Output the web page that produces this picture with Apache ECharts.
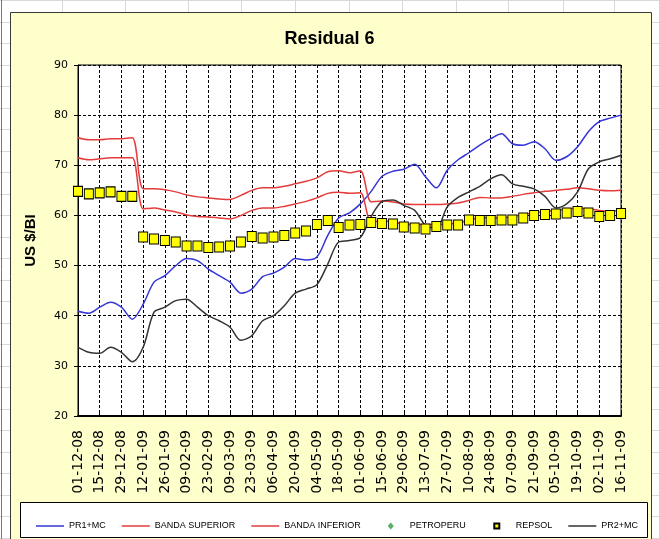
<!DOCTYPE html>
<html><head><meta charset="utf-8">
<script src="https://cdn.jsdelivr.net/npm/echarts@6/dist/echarts.min.js"></script>
<style>html,body{margin:0;padding:0;background:#fff;}#c{width:659px;height:539px;}</style>
</head><body><div id="c"></div>
<script>
const categories = ['01-12-08','08-12-08','15-12-08','22-12-08','29-12-08','05-01-09','12-01-09','19-01-09','26-01-09','02-02-09','09-02-09','16-02-09','23-02-09','02-03-09','09-03-09','16-03-09','23-03-09','30-03-09','06-04-09','13-04-09','20-04-09','27-04-09','04-05-09','11-05-09','18-05-09','25-05-09','01-06-09','08-06-09','15-06-09','22-06-09','29-06-09','06-07-09','13-07-09','20-07-09','27-07-09','03-08-09','10-08-09','17-08-09','24-08-09','31-08-09','07-09-09','14-09-09','21-09-09','28-09-09','05-10-09','12-10-09','19-10-09','26-10-09','02-11-09','09-11-09','16-11-09'];

const pr1mc = [40.9,40.5,41.7,42.7,41.7,39.3,42.3,46.7,48.0,50.0,51.4,51.0,49.3,48.0,46.7,44.5,45.3,47.8,48.5,49.7,51.4,51.1,51.7,56.0,59.5,60.5,62.3,64.8,67.8,68.8,69.2,70.2,67.7,65.5,69.0,71.1,72.5,74.0,75.3,76.3,74.3,74.0,74.7,73.3,71.0,71.7,73.7,76.7,78.7,79.4,80.0];

const bandaSuperior = [75.5,75.1,75.1,75.3,75.3,75.5,65.3,65.3,65.1,64.7,64.1,63.7,63.5,63.3,63.2,64.0,65.0,65.5,65.5,65.8,66.3,66.8,67.5,68.7,68.9,68.5,68.9,62.7,62.9,62.7,62.3,62.2,62.2,62.2,62.3,62.5,63.0,63.6,63.5,63.5,63.8,64.2,64.5,64.8,65.0,65.2,65.5,65.3,65.0,64.9,65.0];

const bandaInferior = [71.5,71.1,71.3,71.5,71.5,71.5,61.3,61.5,61.1,60.7,60.1,59.8,59.7,59.5,59.3,60.0,61.0,61.5,61.5,61.8,62.3,62.8,63.5,64.4,64.6,64.4,64.5,58.7,58.9,58.7,58.3,58.2,58.2,58.2,58.3,58.5,59.0,59.6,59.5,59.5,59.8,60.2,60.5,60.8,61.0,61.2,61.5,61.3,61.0,60.9,61.0];

const petroperu = [];

const repsol = [64.8,64.3,64.5,64.7,63.8,63.8,55.7,55.3,55.0,54.7,53.9,53.9,53.6,53.7,53.9,54.7,55.8,55.5,55.7,56.0,56.5,56.9,58.2,59.0,57.6,58.1,58.2,58.6,58.4,58.3,57.7,57.5,57.3,57.8,58.1,58.1,59.1,59.0,59.0,59.1,59.1,59.5,60.0,60.2,60.3,60.5,60.8,60.5,59.8,60.0,60.4];

const pr2mc = [33.7,32.7,32.5,33.7,32.7,30.8,33.7,40.7,41.7,43.0,43.3,41.7,40.0,39.0,37.7,35.1,36.0,39.0,40.0,42.0,44.5,45.3,46.2,50.3,54.7,55.0,55.6,59.8,62.8,63.1,62.0,61.0,58.0,57.5,61.7,63.6,64.7,65.8,67.3,68.1,66.3,65.8,65.3,63.8,61.5,62.3,64.7,69.3,70.7,71.3,72.0];

const yMin = 20, yMax = 90, yInterval = 10;

const FONT = "'Liberation Sans',Arial,sans-serif";
const LINE_ICON = 'path://M0,0h28v1.5h-28Z';

// decorative spreadsheet grid behind the chart object
const sheetLines = [];
[62,125,188,241,295,349,402,456,508,563,614].forEach(function(x){
  sheetLines.push({type:'line', z:-30, shape:{x1:x+0.5,y1:0,x2:x+0.5,y2:539}, style:{stroke:'#d9d9d9',lineWidth:1}});
});
for (let y = 0; y < 539; y += 21.5) {
  sheetLines.push({type:'line', z:-30, shape:{x1:0,y1:Math.round(y)+0.5,x2:659,y2:Math.round(y)+0.5}, style:{stroke:'#d9d9d9',lineWidth:1}});
}
sheetLines.push({type:'line', z:-29, shape:{x1:1.5,y1:0,x2:1.5,y2:539}, style:{stroke:'#777',lineWidth:1}});

const chart = echarts.init(document.getElementById('c'), null, {renderer:'canvas'});
chart.setOption({
  animation: false,
  backgroundColor: '#ffffff',
  graphic: sheetLines.concat([
    {type:'rect', z:-20, shape:{x:10.5,y:12.5,width:641,height:540}, style:{fill:'#FFFFCC',stroke:'#3a3a3a',lineWidth:1}},
    {type:'rect', z:-10, shape:{x:20.5,y:502.5,width:627,height:35}, style:{fill:'#ffffff',stroke:'#000',lineWidth:1}}
  ]),
  title: {
    text: 'Residual 6',
    left: 'center',
    top: 25,
    textStyle: {fontFamily: FONT, fontSize: 18, fontWeight: 'bold', color: '#000'}
  },
  legend: {
    left: 31,
    top: 513,
    itemWidth: 28,
    itemHeight: 14,
    itemGap: 16,
    textStyle: {fontFamily: FONT, fontSize: 9, color: '#000'},
    data: [
      {name:'PR1+MC', icon: LINE_ICON},
      {name:'BANDA SUPERIOR', icon: LINE_ICON},
      {name:'BANDA INFERIOR', icon: LINE_ICON},
      {name:'PETROPERU', icon:'path://M0,0M28,14M14,3.5L17,7L14,10.5L11,7Z'},
      {name:'REPSOL', icon:'path://M0,0M28,14M11.5,4.5h5v5h-5Z'},
      {name:'PR2+MC', icon: LINE_ICON}
    ]
  },
  grid: {
    left: 78, right: 38, top: 65, bottom: 123,
    show: true, backgroundColor: '#ffffff', borderColor: '#000', borderWidth: 1,
    containLabel: false
  },
  xAxis: {
    type: 'category',
    data: categories,
    boundaryGap: false,
    axisLine: {show:true, lineStyle:{color:'#000', width:2}},
    axisTick: {show:true, inside:true, interval:1, length:5, lineStyle:{color:'#000'}},
    axisLabel: {interval:1, rotate:90, margin:14, fontFamily:"'DejaVu Sans',sans-serif", fontSize:14, color:'#000'},
    splitLine: {show:true, interval:1, lineStyle:{color:'#000', type:[3,2], width:1}}
  },
  yAxis: {
    type: 'value',
    min: yMin, max: yMax, interval: yInterval,
    name: 'US $/BI',
    nameLocation: 'middle',
    nameGap: 40,
    nameRotate: 90,
    nameTextStyle: {fontFamily: FONT, fontSize: 15, fontWeight:'bold', color:'#000'},
    axisLine: {show:true, lineStyle:{color:'#000'}},
    axisTick: {show:true, length:4, lineStyle:{color:'#000'}},
    axisLabel: {margin:10, fontFamily:"'DejaVu Sans',sans-serif", fontSize:11, color:'#000'},
    splitLine: {show:true, lineStyle:{color:'#000', type:[3,2], width:1}}
  },
  series: [
    {name:'PR1+MC', type:'line', data:pr1mc, symbol:'none', smooth:0.3, z:2,
     lineStyle:{color:'#3535d8', width:1.5}, itemStyle:{color:'#3535d8'}},
    {name:'BANDA SUPERIOR', type:'line', data:bandaSuperior, symbol:'none', smooth:0.3, z:2,
     lineStyle:{color:'#e53b3b', width:1.5}, itemStyle:{color:'#e53b3b'}},
    {name:'BANDA INFERIOR', type:'line', data:bandaInferior, symbol:'none', smooth:0.3, z:2,
     lineStyle:{color:'#e53b3b', width:1.5}, itemStyle:{color:'#e53b3b'}},
    {name:'PETROPERU', type:'scatter', data:petroperu, symbol:'diamond', symbolSize:[6,8], z:3,
     itemStyle:{color:'#2e9a3e'}},
    {name:'REPSOL', type:'scatter', data:repsol, symbol:'rect', symbolSize:[9,10], z:4,
     itemStyle:{color:'#ffff00', borderColor:'#000', borderWidth:1, opacity:1}},
    {name:'PR2+MC', type:'line', data:pr2mc, symbol:'none', smooth:0.3, z:2,
     lineStyle:{color:'#333333', width:1.5}, itemStyle:{color:'#333333'}}
  ]
});
</script>
</body></html>
